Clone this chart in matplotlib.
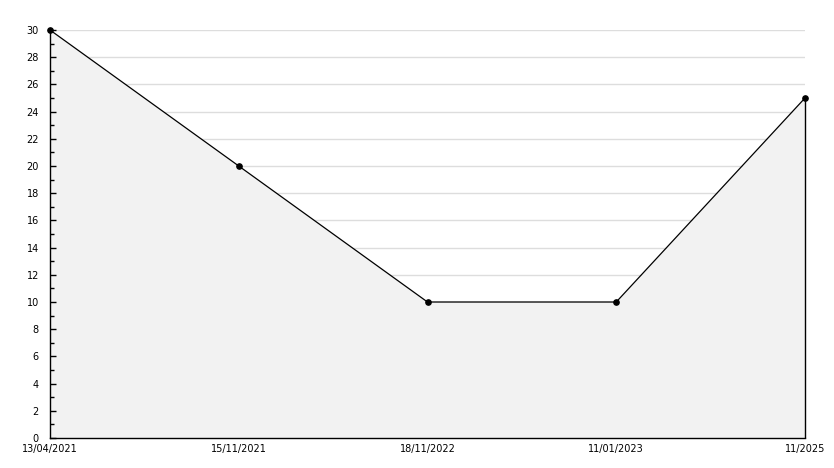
import matplotlib
matplotlib.use("Agg")
import matplotlib.pyplot as plt
from matplotlib.ticker import MultipleLocator

dates = ["13/04/2021", "15/11/2021", "18/11/2022", "11/01/2023", "11/2025"]
values = [30, 20, 10, 10, 25]

fig = plt.figure(figsize=(8.34, 4.68), dpi=100)
ax = fig.add_axes([50/834, 1-438/468, 755/834, 408/468])
x = list(range(len(dates)))
ax.set_xlim(0, len(dates)-1)
ax.set_ylim(0, 30)
ax.yaxis.set_major_locator(MultipleLocator(2))
ax.yaxis.set_minor_locator(MultipleLocator(1))

grid_levels = [t for t in ax.get_yticks() if 0 < t <= 30]
ax.hlines(grid_levels, 0, len(dates)-1, color="#dddddd", lw=1, zorder=0)
ax.fill_between(x, 0, values, color="#f2f2f2", zorder=1, linewidth=0)
ax.vlines(x[-1], 0, values[-1], color="black", lw=1, zorder=3, clip_on=False)
ax.plot(x, values, color="black", lw=0.9, marker="o", ms=3.8, zorder=4, clip_on=False)

ax.set_xticks(x)
ax.set_xticklabels(dates)
for s in ["top", "right"]:
    ax.spines[s].set_visible(False)
for s in ["left", "bottom"]:
    ax.spines[s].set_color("black")
    ax.spines[s].set_linewidth(1)
    ax.spines[s].set_zorder(5)
ax.tick_params(axis="y", which="major", direction="in", length=4.5, width=1, labelsize=7, pad=8)
ax.tick_params(axis="y", which="minor", direction="in", length=3, width=1)
ax.tick_params(axis="x", length=0, labelsize=7, pad=4)
fig.savefig("out.png", dpi=100)
